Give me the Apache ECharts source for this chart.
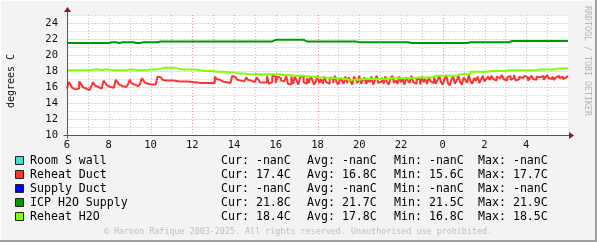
<!DOCTYPE html>
<html><head><meta charset="utf-8">
<script src="https://cdn.jsdelivr.net/npm/echarts@6/dist/echarts.min.js"></script>
<style>html,body{margin:0;padding:0;background:#f3f3f3}#c{width:597px;height:242px}</style>
</head><body><div id="c"></div>
<script>
// ---- data ----
const startHour = 6;            // x axis starts at 06:00, spans 24 hours
const yMin = 10, yMax = 25;
const redStepMin = 5;           // sample step (minutes) of the Reheat Duct series
const greenStepMin = 10;        // sample step (minutes) of the H2O series

const reheatDuct = [
15.8,16.6,16.3,15.9,15.7,15.6,15.8,16.7,16.4,16.0,
15.8,15.7,15.6,15.8,16.1,16.6,16.2,16.0,15.9,15.8,
15.8,16.8,16.5,16.2,16.0,15.9,15.9,15.9,16.9,16.6,
16.3,16.1,16.0,16.0,16.0,16.3,16.9,16.5,16.3,16.1,
16.1,16.1,16.4,17.1,16.8,16.5,16.4,16.3,16.3,16.3,
16.3,16.5,17.3,17.2,17.0,16.9,16.8,16.8,16.8,16.8,
16.8,16.8,16.75,16.75,16.7,16.7,16.7,16.7,16.7,16.65,
16.65,16.6,16.6,16.6,16.55,16.5,16.5,16.5,16.5,16.5,
16.5,16.5,16.5,16.5,16.5,17.3,17.0,16.9,16.8,16.65,
16.6,16.6,16.5,16.5,16.5,17.4,17.2,17.0,16.9,16.8,
16.7,16.7,16.7,17.2,16.9,16.8,16.7,16.6,16.5,17.2,
16.9,16.6,16.55,16.55,16.6,17.4,16.4,16.6,17.4,17.3,
16.5,17.3,17.1,16.8,16.7,16.9,17.4,16.4,16.3,17.3,
16.4,17.3,16.8,16.3,17.2,17.4,16.6,16.4,17.1,16.5,
17.3,16.9,16.3,16.7,17.4,16.5,17.0,16.4,17.3,16.6,
16.4,17.2,17.0,16.5,17.4,16.6,16.3,17.1,16.8,16.4,
17.3,16.5,17.2,16.7,16.3,17.3,16.9,16.5,17.4,16.4,
16.8,17.2,16.4,17.0,16.6,17.3,16.3,16.9,17.4,16.5,
16.7,17.2,16.4,17.3,16.6,16.3,17.1,17.4,16.5,16.8,
16.4,17.3,16.6,17.0,16.3,17.2,16.8,16.5,17.4,16.6,
16.4,17.1,16.9,16.3,17.3,16.6,17.0,16.4,17.2,16.7,
16.5,17.3,16.4,16.9,
17.4,16.6,16.3,17.0,17.5,16.5,16.2,16.9,17.3,16.4,
16.8,17.4,16.6,16.3,17.2,16.9,16.5,17.5,16.7,16.4,
17.1,16.8,17.3,16.5,16.9,17.4,16.7,17.0,
17.3,16.9,17.4,17.0,16.8,17.3,17.1,16.9,17.5,17.0,
16.8,17.2,17.4,16.9,17.1,17.5,16.8,17.0,17.3,17.1,
16.9,17.4,17.2,16.8,17.1,17.4,17.0,16.9,17.3,17.2,
17.0,17.4,16.9,17.2,17.5,17.1,17.0,17.3,16.9,17.2,
17.4,17.1,17.3,17.0,17.2,17.4,17.4
];

const icpH2OSupply = [
21.5,21.5,21.5,21.5,21.5,21.5,21.5,21.5,21.5,21.5,
21.5,21.5,21.6,21.6,21.5,21.6,21.6,21.6,21.6,21.5,
21.5,21.6,21.6,21.6,21.6,21.6,21.7,21.7,21.7,21.7,
21.7,21.7,21.7,21.7,21.7,21.7,21.7,21.7,21.7,21.7,
21.7,21.7,21.7,21.7,21.7,21.7,21.7,21.7,21.7,21.7,
21.7,21.7,21.7,21.7,21.7,21.7,21.7,21.7,21.7,21.9,
21.9,21.9,21.9,21.9,21.9,21.9,21.9,21.9,21.7,21.7,
21.7,21.7,21.7,21.7,21.7,21.7,21.7,21.7,21.7,21.7,
21.7,21.7,21.7,21.6,21.6,21.6,21.6,21.6,21.6,21.6,
21.6,21.6,21.6,21.6,21.6,21.6,21.6,21.6,21.5,21.5,
21.5,21.5,21.5,21.5,21.5,21.5,21.5,21.5,21.5,21.5,
21.5,21.5,21.5,21.5,21.5,21.6,21.6,21.6,21.6,21.6,
21.6,21.6,21.6,21.6,21.6,21.6,21.6,21.75,21.75,21.75,
21.75,21.75,21.75,21.75,21.75,21.75,21.75,21.75,21.75,21.75,
21.75,21.75,21.75,21.75,21.75
];

const reheatH2O = [
18.1,18.1,18.1,18.1,18.1,18.1,18.1,18.2,18.2,18.1,
18.2,18.2,18.1,18.1,18.1,18.1,18.1,18.2,18.2,18.1,
18.1,18.1,18.1,18.2,18.2,18.2,18.3,18.4,18.4,18.4,
18.4,18.3,18.2,18.2,18.2,18.2,18.2,18.1,18.0,18.0,
18.0,18.0,17.9,17.9,17.9,17.85,17.8,17.8,17.7,17.7,
17.7,17.6,17.6,17.6,17.6,17.6,17.6,17.6,17.6,17.6,
17.6,17.5,17.5,17.5,17.4,17.4,17.4,17.4,17.3,17.3,
17.3,17.2,17.2,17.2,17.1,17.1,17.1,17.1,17.1,17.0,
16.9,16.9,16.9,16.9,17.0,17.0,17.0,17.0,17.0,17.0,
17.0,17.0,17.1,17.1,17.1,17.1,17.1,17.1,17.1,17.1,
17.2,17.2,17.2,17.2,17.2,17.4,17.4,17.4,17.4,17.4,
17.4,17.4,17.6,17.6,17.6,17.6,17.9,17.9,17.9,17.9,
17.9,18.0,18.0,18.0,18.0,18.0,18.1,18.1,18.1,18.1,
18.1,18.1,18.1,18.1,18.1,18.2,18.2,18.2,18.2,18.2,
18.3,18.3,18.3,18.3,18.3
];

const legendNames = ['Room S wall','Reheat Duct','Supply Duct','ICP H2O Supply','Reheat H2O'];
const legendColors = ['#40e0d0','#ff3333','#0000ff','#009900','#80ff00'];
const curVals = ['-nan','17.4','-nan','21.8','18.4'];
const avgVals = ['-nan','16.8','-nan','21.7','17.8'];
const minVals = ['-nan','15.6','-nan','21.5','16.8'];
const maxVals = ['-nan','17.7','-nan','21.9','18.5'];
const yAxisTitle = 'degrees C';
const sideText = 'RRDTOOL / TOBI OETIKER';
const footerText = '\u00a9 Haroon Rafique 2003-2025. All rights reserved. Unauthorised use prohibited.';

// ---- chart ----
const MONO = 'DejaVu Sans Mono';
const MAJOR = '#f48c8c';
const MINOR = '#c2c2c2';

function pairs(arr, stepMin) { return arr.map((v, i) => [i * stepMin / 60, v]); }

const chart = echarts.init(document.getElementById('c'), null, {renderer: 'canvas'});
const GRID = {left: 67, right: 29, top: 15, bottom: 107};
const noAxisBits = {axisLine: {show: false}, axisTick: {show: false}, splitLine: {show: false}};

const option = {
  animation: false,
  backgroundColor: '#f3f3f3',
  grid: Object.assign({show: true, backgroundColor: '#ffffff', borderWidth: 0}, GRID),
  xAxis: Object.assign({
    type: 'value', min: 0, max: 24, interval: 1,
    axisLabel: {
      margin: 5, color: '#111', fontFamily: MONO, fontSize: 10.5,
      formatter: v => (v % 2 === 0 && v < 24) ? String((startHour + v) % 24) : ''
    }
  }, noAxisBits),
  yAxis: Object.assign({
    type: 'value', min: yMin, max: yMax, interval: 1,
    axisLabel: {
      margin: 9, color: '#111', fontFamily: MONO, fontSize: 10.5,
      formatter: v => (v % 2 === 0 && v < yMax) ? String(v) : ''
    }
  }, noAxisBits),
  series: [
    {name: 'Reheat Duct', type: 'line', step: 'end', showSymbol: false, z: 3, data: pairs(reheatDuct, redStepMin),
     lineStyle: {color: legendColors[1], width: 2}, itemStyle: {color: legendColors[1]}},
    {name: 'ICP H2O Supply', type: 'line', step: 'end', showSymbol: false, z: 3, data: pairs(icpH2OSupply, greenStepMin),
     lineStyle: {color: legendColors[3], width: 2}, itemStyle: {color: legendColors[3]}},
    {name: 'Reheat H2O', type: 'line', step: 'end', showSymbol: false, z: 3, data: pairs(reheatH2O, greenStepMin),
     lineStyle: {color: legendColors[4], width: 2}, itemStyle: {color: legendColors[4]}}
  ]
};
chart.setOption(option);

// decorations: crisp dotted grid (from the axis scale), axes with arrows, legend, texts, frame
const px = v => chart.convertToPixel({xAxisIndex: 0}, v);
const py = v => chart.convertToPixel({yAxisIndex: 0}, v);
const ox = Math.round(px(0)) + 0.5, oy = Math.round(py(yMin)) + 0.5;
const ex = Math.round(px(24)), ty = Math.round(py(yMax));
const g = [];
for (let h = 1; h < 24; h++) {
  const x = Math.round(px(h)) + 0.5;
  g.push({type: 'line', z: 1, silent: true, shape: {x1: x, y1: ty, x2: x, y2: oy},
    style: {stroke: h % 6 === 0 ? MAJOR : MINOR, lineWidth: 1, lineDash: [1, 2]}});
}
for (let v = yMin + 1; v <= yMax; v++) {
  const y = Math.round(py(v)) + 0.5;
  g.push({type: 'line', z: (v % 2 === 0) ? 2 : 1, silent: true, shape: {x1: ox, y1: y, x2: ex, y2: y},
    style: {stroke: (v % 2 === 0 && v < yMax) ? MAJOR : MINOR, lineWidth: 1, lineDash: [1, 2]}});
}
const AX = '#555', ARROW = '#8b1a1a';
g.push({type: 'line', shape: {x1: ox - 4, y1: oy, x2: ex + 1, y2: oy}, style: {stroke: AX, lineWidth: 1}, z: 10});
g.push({type: 'line', shape: {x1: ox, y1: oy + 3, x2: ox, y2: ty - 4}, style: {stroke: AX, lineWidth: 1}, z: 10});
g.push({type: 'polygon', shape: {points: [[ex + 1, oy - 3.5], [ex + 6, oy], [ex + 1, oy + 3.5]]}, style: {fill: ARROW}, z: 11});
g.push({type: 'polygon', shape: {points: [[ox - 3.5, ty - 3], [ox, ty - 8], [ox + 3.5, ty - 3]]}, style: {fill: ARROW}, z: 11});

// y-axis title
g.push({type: 'text', x: 11, y: 81, rotation: Math.PI / 2,
  style: {text: yAxisTitle, fill: '#111', font: '10px "' + MONO + '"', align: 'center', verticalAlign: 'middle'}});
// side text
g.push({type: 'text', x: 587, y: 61, rotation: -Math.PI / 2,
  style: {text: sideText, fill: '#b5b5b5', font: '8.3px "' + MONO + '"', align: 'center', verticalAlign: 'middle'}});
// footer
g.push({type: 'text', x: 298, y: 231.5,
  style: {text: footerText, fill: '#c0c0c0', font: '8.4px "' + MONO + '"', align: 'center', verticalAlign: 'middle'}});

// legend
const LF = '11.6px "' + MONO + '"';
for (let k = 0; k < legendNames.length; k++) {
  const cy = 161 + 14 * k;
  g.push({type: 'rect', shape: {x: 15.5, y: cy - 4.5, width: 8, height: 8}, style: {fill: legendColors[k], stroke: '#222', lineWidth: 1}});
  const t = (x, s) => g.push({type: 'text', x: x, y: cy, style: {text: s, fill: '#000', font: LF, verticalAlign: 'middle'}});
  t(30, legendNames[k]);
  t(221, 'Cur: ' + curVals[k] + 'C');
  t(307, 'Avg: ' + avgVals[k] + 'C');
  t(394, 'Min: ' + minVals[k] + 'C');
  t(478, 'Max: ' + maxVals[k] + 'C');
}

// frame
g.push({type: 'line', shape: {x1: 0, y1: 0.5, x2: 597, y2: 0.5}, style: {stroke: '#fdfdfd', lineWidth: 1}});
g.push({type: 'line', shape: {x1: 0.5, y1: 0, x2: 0.5, y2: 242}, style: {stroke: '#fdfdfd', lineWidth: 1}});
g.push({type: 'line', shape: {x1: 596, y1: 0, x2: 596, y2: 242}, style: {stroke: '#a0a0a0', lineWidth: 2}});
g.push({type: 'line', shape: {x1: 0, y1: 241, x2: 597, y2: 241}, style: {stroke: '#a0a0a0', lineWidth: 2}});

chart.setOption({graphic: g});
</script></body></html>
